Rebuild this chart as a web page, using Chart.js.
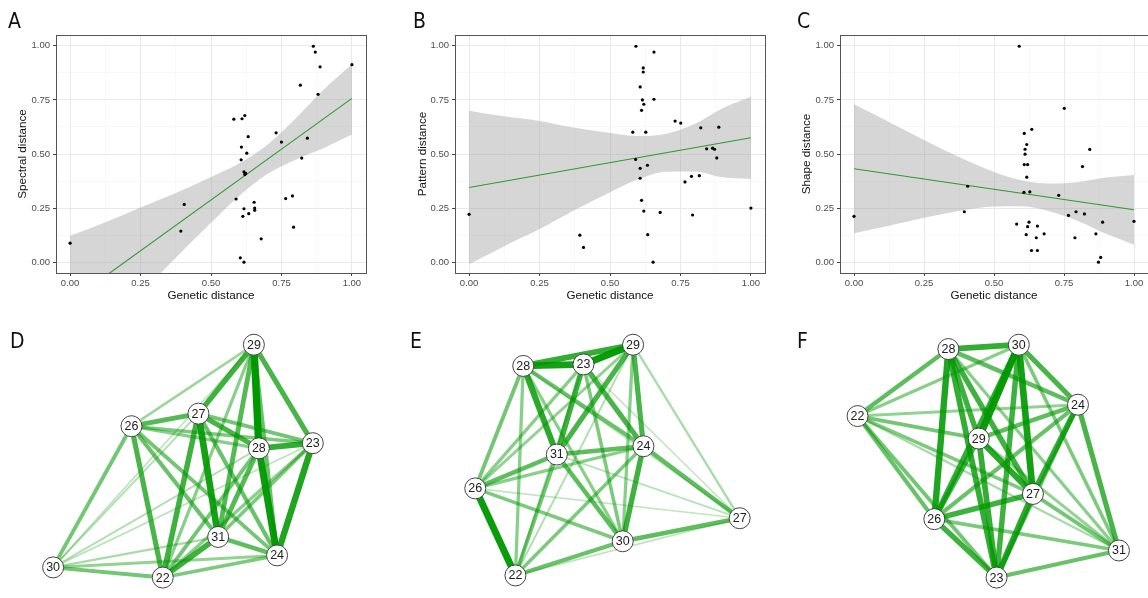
<!DOCTYPE html>
<html><head><meta charset="utf-8">
<script src="https://cdn.jsdelivr.net/npm/chart.js@4.4.1/dist/chart.umd.min.js"></script>
<style>
html,body{margin:0;padding:0;background:#fff;overflow:hidden;width:1148px;height:598px;}
.p{position:absolute;}
.lab{position:absolute;font-family:"Liberation Sans Narrow","DejaVu Sans Condensed",sans-serif;font-size:21px;color:#111;line-height:1;}
</style></head><body>
<div class="p" style="left:0;top:0;width:380px;height:303px"><canvas id="cA"></canvas></div>
<div class="p" style="left:380px;top:0;width:390px;height:303px"><canvas id="cB"></canvas></div>
<div class="p" style="left:770px;top:0;width:382px;height:303px"><canvas id="cC"></canvas></div>
<div class="p" style="left:0;top:300px;width:380px;height:298px"><canvas id="cD"></canvas></div>
<div class="p" style="left:380px;top:300px;width:390px;height:298px"><canvas id="cE"></canvas></div>
<div class="p" style="left:770px;top:300px;width:378px;height:298px"><canvas id="cF"></canvas></div>
<div class="lab" style="left:8px;top:11px">A</div>
<div class="lab" style="left:413px;top:11px">B</div>
<div class="lab" style="left:797px;top:11px">C</div>
<div class="lab" style="left:10px;top:331px">D</div>
<div class="lab" style="left:410px;top:331px">E</div>
<div class="lab" style="left:797px;top:331px">F</div>
<script>
// ---------- data: scatter panels ----------
const tickVals = [0,0.125,0.25,0.375,0.5,0.625,0.75,0.875,1];
const tickLabels = ['0.00','','0.25','','0.50','','0.75','','1.00'];

const gdA = [0,0.393,0.405,0.581,0.610,0.620,0.608,0.632,0.627,0.607,0.617,0.623,0.620,0.589,0.617,0.613,0.634,0.653,0.655,0.655,0.604,0.617,0.678,0.731,0.750,0.765,0.789,0.793,0.817,0.822,0.842,0.863,0.870,0.880,0.887,1.0];
const spectral = [0.088,0.144,0.267,0.661,0.663,0.678,0.532,0.580,0.504,0.473,0.417,0.41,0.405,0.292,0.247,0.212,0.224,0.277,0.25,0.240,0.020,0.0,0.108,0.598,0.555,0.294,0.306,0.162,0.818,0.481,0.573,0.998,0.971,0.776,0.903,0.913];

const gdB = [0,0.393,0.406,0.592,0.656,0.618,0.618,0.607,0.615,0.656,0.620,0.612,0.581,0.627,0.731,0.751,0.822,0.886,0.843,0.864,0.871,0.879,0.591,0.607,0.633,0.607,0.766,0.789,0.817,0.612,0.620,0.678,0.793,1.0,0.634,0.653];
const pattern = [0.221,0.125,0.068,0.998,0.971,0.898,0.879,0.81,0.75,0.753,0.73,0.702,0.601,0.601,0.652,0.643,0.621,0.624,0.524,0.527,0.522,0.482,0.475,0.434,0.448,0.388,0.371,0.397,0.400,0.286,0.236,0.230,0.218,0.250,0.127,0.0];

const gdC = [0,0.394,0.406,0.590,0.751,0.635,0.608,0.617,0.611,0.611,0.608,0.620,0.617,0.607,0.628,0.731,0.842,0.816,0.581,0.625,0.620,0.655,0.615,0.651,0.679,0.766,0.793,0.823,0.789,0.864,0.888,1.0,0.634,0.655,0.881,0.873];
const shape = [0.212,0.233,0.351,0.998,0.711,0.614,0.595,0.544,0.522,0.499,0.451,0.451,0.393,0.323,0.325,0.309,0.521,0.442,0.176,0.185,0.164,0.167,0.127,0.113,0.131,0.216,0.233,0.223,0.113,0.131,0.185,0.189,0.054,0.054,0.022,0.0];

const fitX = [0,1];
const fitA = [-0.182,0.757];
const fitB = [0.345,0.575];
const fitC = [0.432,0.242];

const bandX = [0,0.125,0.25,0.375,0.5,0.6,0.7,0.8,0.9,1];
const bandAUp = [0.122,0.185,0.253,0.320,0.394,0.456,0.543,0.664,0.798,0.915];
const bandALo = [-0.486,-0.315,-0.147,0.020,0.182,0.306,0.407,0.474,0.528,0.590];
const bandBUp = [0.700,0.674,0.653,0.621,0.597,0.583,0.594,0.639,0.712,0.765];
const bandBLo = [-0.010,0.074,0.153,0.241,0.323,0.383,0.418,0.419,0.392,0.385];
const bandCUp = [0.730,0.648,0.565,0.486,0.417,0.378,0.364,0.370,0.391,0.403];
const bandCLo = [0.134,0.168,0.205,0.236,0.257,0.258,0.234,0.190,0.131,0.081];

// ---------- data: networks ----------
const nodesD = ['29','27','26','28','23','31','24','30','22'];
const nodeXD = [258,199,127.7,263.3,320.7,220,282.7,44.3,161];
const nodeYD = [36,110.7,124.3,148.3,142.7,244.3,264.3,277.3,288.3];
const edgesD = [
 ['29','28',1.0],['28','24',0.95],['27','31',0.9],['23','24',0.85],['28','23',0.75],
 ['29','27',0.7],['27','22',0.7],['31','22',0.7],['29','23',0.65],['27','28',0.65],['26','22',0.65],
 ['29','31',0.6],['27','26',0.6],['28','31',0.6],['31','24',0.55],['29','24',0.5],['27','24',0.5],['26','31',0.5],
 ['26','24',0.45],['26','30',0.45],['27','23',0.45],['28','22',0.45],['22','30',0.45],
 ['26','23',0.4],['23','31',0.4],['24','22',0.4],['29','22',0.35],['26','28',0.35],['23','22',0.35],
 ['24','30',0.3],['29','26',0.25],['31','30',0.2],['27','30',0.15],['28','30',0.15],['29','30',0.1],['23','30',0.1]
];

const nodesE = ['29','28','23','31','24','26','27','30','22'];
const nodeXE = [256.7,140,204,175.7,267.7,89,370,245.7,131.7];
const nodeYE = [36,59,57.3,155,146,191.7,224,249,286];
const edgesE = [
 ['29','23',0.95],['26','22',0.95],['28','23',0.9],['28','31',0.8],['28','29',0.75],
 ['23','31',0.7],['24','30',0.7],['29','31',0.65],['29','24',0.65],['23','24',0.65],
 ['31','24',0.55],['31','26',0.55],['31','30',0.55],['24','27',0.55],['30','27',0.55],
 ['28','24',0.5],['22','30',0.5],['28','26',0.45],['31','22',0.45],
 ['23','30',0.4],['24','22',0.4],['26','30',0.4],
 ['28','22',0.35],['28','30',0.35],['23','26',0.35],['29','30',0.35],['24','26',0.35],
 ['29','26',0.3],['29','27',0.2],['23','22',0.2],['29','22',0.15],['31','27',0.12],
 ['22','27',0.1],['28','27',0.08],['23','27',0.08],['26','27',0.08]
];

const nodesF = ['28','30','22','24','29','27','26','31','23'];
const nodeXF = [177.7,252.7,81,315.7,210,267.7,162.7,359.3,229];
const nodeYF = [40.7,36,113.3,101,137.7,197.7,225,259,288.3];
const edgesF = [
 ['30','29',0.95],['30','27',0.9],['28','26',0.85],['29','27',0.8],['27','23',0.8],
 ['28','30',0.75],['28','23',0.75],['30','26',0.75],['24','27',0.75],['29','23',0.75],
 ['28','29',0.7],['28','27',0.7],['30','23',0.7],['27','26',0.7],['26','23',0.7],
 ['30','24',0.65],['24','31',0.65],['29','26',0.65],
 ['28','22',0.55],['28','24',0.55],['24','29',0.55],
 ['22','26',0.5],['24','26',0.5],['24','23',0.5],['23','31',0.5],
 ['22','29',0.45],['22','23',0.45],['27','31',0.45],
 ['22','27',0.4],['30','31',0.4],['26','31',0.4],
 ['30','22',0.35],['28','31',0.35],['22','24',0.3],['29','31',0.3],['22','31',0.2]
];

// ---------- rendering ----------
Chart.defaults.font.family = '"Liberation Sans", Arial, sans-serif';
Chart.defaults.animation = false;
Chart.defaults.devicePixelRatio = 1;

const frame = {
  id: 'frame',
  afterDraw(chart) {
    const a = chart.chartArea, ctx = chart.ctx;
    ctx.save();
    ctx.strokeStyle = '#555';
    ctx.lineWidth = 1;
    ctx.strokeRect(Math.round(a.left) + 0.5, Math.round(a.top) + 0.5, Math.round(a.right - a.left), Math.round(a.bottom - a.top));
    ctx.restore();
  }
};

function pts(xs, ys) { return xs.map((x, i) => ({x: x, y: ys[i]})); }

function gridOpts() {
  return {
    color: c => (c.index % 2 === 0 ? '#e9e9e9' : '#f3f3f3'),
    lineWidth: c => (c.index % 2 === 0 ? 1 : 0.6),
    tickLength: 3,
    tickColor: c => (c.index % 2 === 0 ? '#444' : 'rgba(0,0,0,0)'),
    drawTicks: true
  };
}

function scatterChart(id, gx, gy, fitY, up, lo, yTitle, padL, padR, yWidth) {
  new Chart(document.getElementById(id), {
    type: 'line',
    data: {
      datasets: [
        {data: pts(gx, gy), showLine: false, pointRadius: 1.6, pointBackgroundColor: '#000', pointBorderWidth: 0, order: 0},
        {data: pts(fitX, fitY), borderColor: '#2e9a2e', borderWidth: 1.1, pointRadius: 0, order: 1},
        {data: pts(bandX, up), borderColor: 'rgba(0,0,0,0)', borderWidth: 0, pointRadius: 0, fill: '+1',
         backgroundColor: 'rgba(153,153,153,0.4)', cubicInterpolationMode: 'monotone', order: 2},
        {data: pts(bandX, lo), borderColor: 'rgba(0,0,0,0)', borderWidth: 0, pointRadius: 0, fill: false,
         cubicInterpolationMode: 'monotone', order: 3}
      ]
    },
    options: {
      responsive: true, maintainAspectRatio: false,
      layout: {padding: {left: padL, right: padR, top: 35, bottom: 0}},
      plugins: {legend: {display: false}, tooltip: {enabled: false}},
      scales: {
        x: {
          type: 'linear', min: -0.05, max: 1.05,
          afterBuildTicks: s => { s.ticks = tickVals.map(v => ({value: v})); },
          afterFit: s => { s.height = 30; },
          ticks: {callback: (v, i) => tickLabels[i], color: '#4d4d4d', font: {size: 9.5}, padding: 2, maxRotation: 0, autoSkip: false},
          grid: gridOpts(), border: {display: false},
          title: {display: true, text: 'Genetic distance', color: '#111', font: {size: 11.7}, padding: {top: 0, bottom: 0}}
        },
        y: {
          type: 'linear', min: -0.05, max: 1.05,
          afterBuildTicks: s => { s.ticks = tickVals.map(v => ({value: v})); },
          afterFit: s => { s.width = yWidth; },
          ticks: {callback: (v, i) => tickLabels[i], color: '#4d4d4d', font: {size: 9.5}, padding: 3, autoSkip: false},
          grid: gridOpts(), border: {display: false},
          title: {display: true, text: yTitle, color: '#111', font: {size: 11.7}, padding: {top: 16, bottom: 0}}
        }
      }
    },
    plugins: [frame]
  });
}

scatterChart('cA', gdA, spectral, fitA, bandAUp, bandALo, 'Spectral distance', 0, 14, 56);
scatterChart('cB', gdB, pattern, fitB, bandBUp, bandBLo, 'Pattern distance', 20, 5, 55);
scatterChart('cC', gdC, shape, fitC, bandCUp, bandCLo, 'Shape distance', 14, 2, 56);

const nodeLabels = {
  id: 'nodeLabels',
  afterDatasetsDraw(chart) {
    const ds = chart.data.datasets[0];
    const meta = chart.getDatasetMeta(0);
    const ctx = chart.ctx;
    ctx.save();
    ctx.font = '12.5px "Liberation Sans", Arial, sans-serif';
    ctx.fillStyle = '#222';
    ctx.textAlign = 'center';
    ctx.textBaseline = 'middle';
    meta.data.forEach((p, i) => ctx.fillText(ds.nodeNames[i], p.x, p.y + 0.5));
    ctx.restore();
  }
};

function netChart(id, names, nx, ny, edges, w, h) {
  const idx = {};
  names.forEach((n, i) => { idx[n] = i; });
  const sorted = edges.slice().sort((a, b) => b[2] - a[2]);
  const edgeSets = sorted.map((e, k) => {
    const a = idx[e[0]], b = idx[e[1]], wt = e[2];
    return {
      data: [{x: nx[a], y: ny[a]}, {x: nx[b], y: ny[b]}],
      borderColor: 'rgba(0,152,0,' + (0.18 + 0.82 * wt).toFixed(3) + ')',
      borderWidth: 1.1 + 6.2 * wt,
      pointRadius: 0, borderCapStyle: 'butt', clip: false, order: k + 1
    };
  });
  const nodeSet = {
    data: pts(nx, ny), nodeNames: names, showLine: false,
    pointRadius: 10.5, pointBackgroundColor: '#fff', pointBorderColor: '#444', pointBorderWidth: 1,
    clip: false, order: 0
  };
  new Chart(document.getElementById(id), {
    type: 'line',
    data: {datasets: [nodeSet].concat(edgeSets)},
    options: {
      responsive: true, maintainAspectRatio: false,
      layout: {padding: 0},
      plugins: {legend: {display: false}, tooltip: {enabled: false}},
      scales: {
        x: {type: 'linear', display: false, min: 0, max: w},
        y: {type: 'linear', display: false, min: 0, max: h, reverse: true}
      }
    },
    plugins: [nodeLabels]
  });
}

netChart('cD', nodesD, nodeXD, nodeYD, edgesD, 380, 298);
netChart('cE', nodesE, nodeXE, nodeYE, edgesE, 390, 298);
netChart('cF', nodesF, nodeXF, nodeYF, edgesF, 378, 298);
</script>
</body></html>
